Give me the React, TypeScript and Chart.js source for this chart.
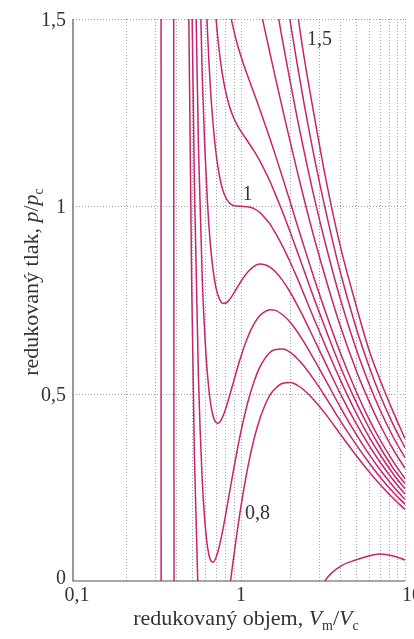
import { useEffect, useRef } from "react";
import { Chart, registerables } from "chart.js";
Chart.register(...registerables);

// reduced volume grid (V/Vc) shared by the main isotherms
const VOLUME = [0.43, 0.46, 0.48, 0.5, 0.52, 0.55, 0.58, 0.6, 0.625, 0.65, 0.675, 0.7, 0.725, 0.75, 0.775, 0.8, 0.85, 0.9, 0.95, 1.0, 1.1, 1.2, 1.3, 1.4, 1.5, 1.6, 1.8, 2.0, 2.2, 2.4, 2.8, 3.3, 4, 5, 6, 7, 8.5, 10];

// reduced pressure p/pc read for each isotherm (T/Tc)
const P_080 = [5.85, 2.66, 1.52, 0.8, 0.33, -0.07, -0.27, -0.33, -0.37, -0.36, -0.34, -0.3, -0.26, -0.21, -0.16, -0.12, -0.023, 0.061, 0.135, 0.2, 0.303, 0.379, 0.432, 0.469, 0.496, 0.512, 0.528, 0.53, 0.523, 0.511, 0.482, 0.444, 0.394, 0.337, 0.293, 0.259, 0.22, 0.191];
const P_085 = [7.23, 3.71, 2.43, 1.6, 1.05, 0.545, 0.27, 0.167, 0.09, 0.057, 0.05, 0.06, 0.08, 0.107, 0.137, 0.169, 0.235, 0.296, 0.351, 0.4, 0.477, 0.532, 0.57, 0.594, 0.61, 0.617, 0.619, 0.61, 0.594, 0.576, 0.536, 0.489, 0.43, 0.366, 0.317, 0.279, 0.236, 0.205];
const P_090 = [8.61, 4.77, 3.34, 2.4, 1.76, 1.16, 0.81, 0.667, 0.549, 0.478, 0.441, 0.424, 0.421, 0.427, 0.439, 0.455, 0.493, 0.531, 0.568, 0.6, 0.651, 0.686, 0.708, 0.719, 0.724, 0.723, 0.71, 0.69, 0.666, 0.64, 0.59, 0.534, 0.467, 0.394, 0.34, 0.299, 0.252, 0.218];
const P_095 = [9.99, 5.82, 4.25, 3.2, 2.48, 1.775, 1.35, 1.167, 1.006, 0.899, 0.831, 0.787, 0.762, 0.747, 0.741, 0.741, 0.751, 0.767, 0.784, 0.8, 0.825, 0.84, 0.846, 0.844, 0.838, 0.828, 0.801, 0.77, 0.737, 0.705, 0.644, 0.579, 0.503, 0.423, 0.364, 0.319, 0.269, 0.232];
const P_100 = [11.36, 6.875, 5.16, 4.0, 3.19, 2.391, 1.893, 1.667, 1.463, 1.32, 1.221, 1.151, 1.102, 1.067, 1.043, 1.027, 1.009, 1.002, 1.001, 1.0, 0.999, 0.994, 0.984, 0.969, 0.953, 0.933, 0.892, 0.85, 0.809, 0.769, 0.698, 0.624, 0.54, 0.451, 0.387, 0.339, 0.285, 0.246];
const P_105 = [12.74, 7.93, 6.07, 4.8, 3.905, 3.0, 2.434, 2.167, 1.92, 1.741, 1.611, 1.515, 1.442, 1.387, 1.345, 1.313, 1.267, 1.237, 1.216, 1.2, 1.173, 1.148, 1.122, 1.094, 1.067, 1.038, 0.983, 0.93, 0.88, 0.834, 0.752, 0.669, 0.576, 0.48, 0.411, 0.359, 0.3, 0.26];
const P_110 = [14.12, 8.98, 6.98, 5.6, 4.62, 3.62, 2.974, 2.667, 2.377, 2.162, 2.002, 1.878, 1.783, 1.707, 1.647, 1.598, 1.525, 1.473, 1.432, 1.4, 1.347, 1.302, 1.26, 1.219, 1.181, 1.144, 1.074, 1.01, 0.951, 0.898, 0.806, 0.714, 0.613, 0.509, 0.434, 0.379, 0.318, 0.273];
const P_120 = [16.88, 11.08, 8.8, 7.2, 6.05, 4.853, 4.055, 3.667, 3.292, 3.004, 2.782, 2.606, 2.464, 2.347, 2.251, 2.17, 2.041, 1.943, 1.865, 1.8, 1.695, 1.609, 1.536, 1.469, 1.41, 1.354, 1.256, 1.17, 1.094, 1.027, 0.914, 0.804, 0.685, 0.566, 0.482, 0.419, 0.35, 0.301];
const P_130 = [19.65, 13.19, 10.62, 8.8, 7.48, 6.08, 5.136, 4.67, 4.206, 3.85, 3.56, 3.33, 3.145, 2.99, 2.854, 2.74, 2.56, 2.41, 2.297, 2.2, 2.04, 1.917, 1.812, 1.72, 1.638, 1.565, 1.437, 1.33, 1.237, 1.156, 1.022, 0.894, 0.758, 0.623, 0.529, 0.459, 0.383, 0.329];
const P_140 = [22.41, 15.29, 12.43, 10.4, 8.9, 7.31, 6.217, 5.67, 5.12, 4.69, 4.35, 4.06, 3.826, 3.63, 3.458, 3.31, 3.07, 2.88, 2.73, 2.6, 2.39, 2.225, 2.088, 1.97, 1.867, 1.775, 1.619, 1.49, 1.38, 1.285, 1.13, 0.984, 0.83, 0.68, 0.576, 0.499, 0.416, 0.356];
const P_150 = [25.17, 17.4, 14.25, 12, 10.33, 8.54, 7.298, 6.67, 6.034, 5.53, 5.12, 4.79, 4.506, 4.27, 4.062, 3.88, 3.59, 3.36, 3.162, 3.0, 2.74, 2.532, 2.363, 2.22, 2.096, 1.99, 1.8, 1.65, 1.523, 1.41, 1.24, 1.07, 0.9, 0.74, 0.62, 0.54, 0.45, 0.38];

// low-temperature isotherms (own volume samples)
const VOL_LOWEST = [0.324, 0.325, 0.326];
const P_LOWEST = [40, 5, -1];
const VOL_LOW_LEFT = [0.386, 0.388, 0.391, 0.395];
const P_LOW_LEFT = [8, 2, -0.2, -3];
const VOL_LOW_RIGHT = [2.9, 3.25, 4, 5, 6, 7, 8.5, 10];
const P_LOW_RIGHT = [-0.05, 0, 0.038, 0.056, 0.067, 0.072, 0.067, 0.056];

// axis ticks / grid
const GRID_X = [0.2, 0.3, 0.4, 0.5, 0.6, 0.7, 0.8, 0.9, 1, 2, 3, 4, 5, 6, 7, 8, 9, 10];
const GRID_Y = [0.5, 1, 1.5];
const X_TICKS = [0.1, 1, 10];
const X_TICK_LABELS = ["0,1", "1", "10"];
const Y_TICKS = [0, 0.5, 1, 1.5];
const Y_TICK_LABELS = ["0", "0,5", "1", "1,5"];

const CURVE = "rgb(198, 36, 110)";
const TEXT = "#333";
const SERIF = "'Liberation Serif', 'DejaVu Serif', serif";

function pts(xs: number[], ys: number[]) {
  return xs.map((x, i) => ({ x, y: ys[i] }));
}

type Part = { t: string; italic?: boolean; sub?: boolean };

function drawRich(ctx: CanvasRenderingContext2D, parts: Part[], size: number) {
  const fontFor = (p: Part) =>
    `${p.italic ? "italic " : ""}${p.sub ? Math.round(size * 0.64) : size}px ${SERIF}`;
  let total = 0;
  const widths = parts.map((p) => {
    ctx.font = fontFor(p);
    const w = ctx.measureText(p.t).width;
    total += w;
    return w;
  });
  let x = -total / 2;
  parts.forEach((p, i) => {
    ctx.font = fontFor(p);
    ctx.fillText(p.t, x, p.sub ? size * 0.22 : 0);
    x += widths[i];
  });
}

const decorPlugin = {
  id: "decor",
  beforeDatasetsDraw(chart: any) {
    const { ctx, chartArea: a, scales } = chart;
    const xs = scales.x;
    const ys = scales.y;
    ctx.save();
    ctx.strokeStyle = "#a2a2a2";
    ctx.lineWidth = 1;
    ctx.setLineDash([1, 2]);
    for (const v of GRID_X) {
      const px = Math.round(xs.getPixelForValue(v)) + 0.5;
      ctx.beginPath();
      ctx.moveTo(px, a.top);
      ctx.lineTo(px, a.bottom);
      ctx.stroke();
    }
    for (const v of GRID_Y) {
      const py = Math.round(ys.getPixelForValue(v)) + 0.5;
      ctx.beginPath();
      ctx.moveTo(a.left, py);
      ctx.lineTo(a.right, py);
      ctx.stroke();
    }
    ctx.restore();
  },
  afterDatasetsDraw(chart: any) {
    const { ctx, chartArea: a, scales } = chart;
    const xs = scales.x;
    const ys = scales.y;
    ctx.save();
    ctx.strokeStyle = "#555";
    ctx.lineWidth = 1.2;
    ctx.beginPath();
    ctx.moveTo(a.left, a.top);
    ctx.lineTo(a.left, a.bottom);
    ctx.lineTo(a.right, a.bottom);
    ctx.stroke();

    ctx.fillStyle = TEXT;
    ctx.font = `20px ${SERIF}`;
    ctx.textBaseline = "alphabetic";
    ctx.textAlign = "center";
    X_TICKS.forEach((v, i) => {
      const off = v === 10 ? 7 : 0;
      ctx.fillText(X_TICK_LABELS[i], xs.getPixelForValue(v) + off, a.bottom + 20);
    });
    ctx.textAlign = "right";
    Y_TICKS.forEach((v, i) => {
      const off = v === 0 ? 3 : 7;
      ctx.fillText(Y_TICK_LABELS[i], a.left - 7, ys.getPixelForValue(v) + off);
    });

    ctx.textAlign = "left";
    ctx.fillText("1,5", xs.getPixelForValue(2.53), ys.getPixelForValue(1.43));
    ctx.fillText("1", xs.getPixelForValue(1.02), ys.getPixelForValue(1.016));
    ctx.fillText("0,8", xs.getPixelForValue(1.058), ys.getPixelForValue(0.165));

    ctx.save();
    ctx.translate((a.left + a.right) / 2 + 7, a.bottom + 44);
    drawRich(
      ctx,
      [
        { t: "redukovaný objem, " },
        { t: "V", italic: true },
        { t: "m", sub: true },
        { t: "/" },
        { t: "V", italic: true },
        { t: "c", sub: true },
      ],
      22
    );
    ctx.restore();

    ctx.save();
    ctx.translate(38, 282);
    ctx.rotate(-Math.PI / 2);
    drawRich(
      ctx,
      [
        { t: "redukovaný tlak, " },
        { t: "p", italic: true },
        { t: "/" },
        { t: "p", italic: true },
        { t: "c", sub: true },
      ],
      22
    );
    ctx.restore();
    ctx.restore();
  },
};

export default function App() {
  const ref = useRef<HTMLCanvasElement>(null);
  useEffect(() => {
    const series = [P_080, P_085, P_090, P_095, P_100, P_105, P_110, P_120, P_130, P_140, P_150];
    const ds = (data: { x: number; y: number }[]) => ({
      data,
      borderColor: CURVE,
      borderWidth: 1.5,
      pointRadius: 0,
      fill: false,
      cubicInterpolationMode: "monotone" as const,
    });
    const datasets = [
      ds(pts(VOL_LOWEST, P_LOWEST)),
      ds(pts(VOL_LOW_LEFT, P_LOW_LEFT)),
      ds(pts(VOL_LOW_RIGHT, P_LOW_RIGHT)),
      ...series.map((s) => ds(pts(VOLUME, s))),
    ];
    const chart = new Chart(ref.current as HTMLCanvasElement, {
      type: "line",
      data: { datasets },
      options: {
        animation: false,
        responsive: false,
        maintainAspectRatio: false,
        devicePixelRatio: 1,
        layout: { padding: { left: 73, right: 9, top: 19, bottom: 58 } },
        plugins: { legend: { display: false }, tooltip: { enabled: false } },
        events: [],
        scales: {
          x: { type: "logarithmic", min: 0.0945, max: 10, display: false },
          y: { type: "linear", min: 0, max: 1.5, display: false },
        },
      },
      plugins: [decorPlugin],
    } as any);
    return () => chart.destroy();
  }, []);
  return (
    <div style={{ position: "fixed", left: 0, top: 0, width: 414, height: 639, background: "#fff" }}>
      <canvas ref={ref} width={414} height={639} style={{ width: 414, height: 639, display: "block" }} />
    </div>
  );
}
